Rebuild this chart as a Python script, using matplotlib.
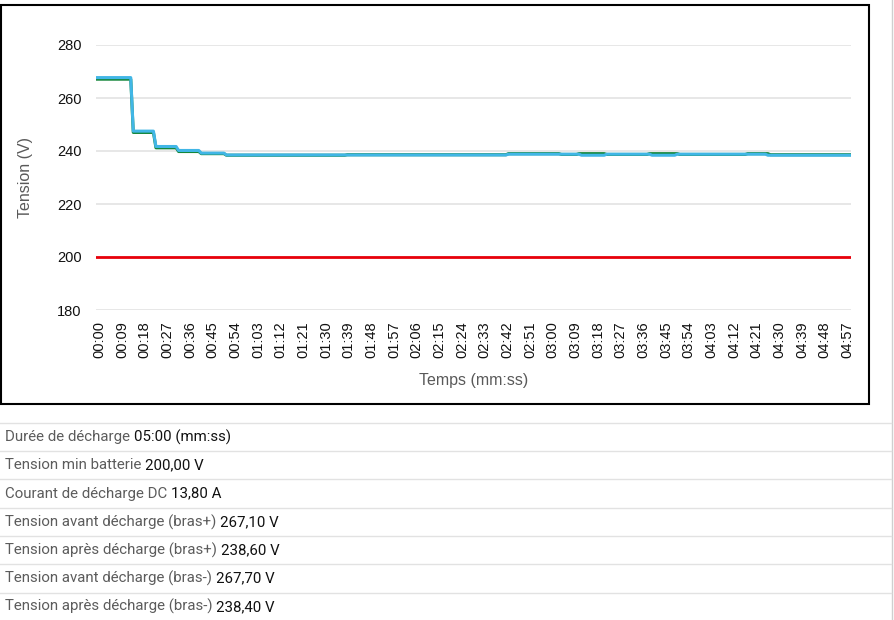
import numpy as np
import matplotlib
matplotlib.use("Agg")
import matplotlib.pyplot as plt
import matplotlib.transforms as mtransforms
from matplotlib.patches import Rectangle
from matplotlib.lines import Line2D

# series (level, first second of the run)
plus_levels = [267.1, 247.0, 241.2, 239.8, 239.0, 238.4, 238.6, 239.0, 238.7, 239.0, 238.7, 239.0, 238.7, 239.0, 238.6]
plus_starts = [0, 15, 24, 33, 42, 52, 100, 164, 185, 192, 203, 220, 232, 259, 268]
minus_levels = [267.7, 247.5, 241.7, 240.2, 239.2, 238.5, 238.8, 238.4, 238.8, 238.4, 238.8, 238.4]
minus_starts = [0, 15, 24, 33, 42, 52, 164, 193, 203, 221, 231, 267]
v_min = 200.0
duration = 300  # seconds

tick_labels = ["00:00", "00:09", "00:18", "00:27", "00:36", "00:45", "00:54", "01:03",
               "01:12", "01:21", "01:30", "01:39", "01:48", "01:57", "02:06", "02:15",
               "02:24", "02:33", "02:42", "02:51", "03:00", "03:09", "03:18", "03:27",
               "03:36", "03:45", "03:54", "04:03", "04:12", "04:21", "04:30", "04:39",
               "04:48", "04:57"]
y_ticks = [180, 200, 220, 240, 260, 280]

info_labels = ["Durée de décharge", "Tension min batterie", "Courant de décharge DC",
               "Tension avant décharge (bras+)", "Tension après décharge (bras+)",
               "Tension avant décharge (bras-)", "Tension après décharge (bras-)"]
info_values = ["05:00 (mm:ss)", "200,00 V", "13,80 A", "267,10 V", "238,60 V",
               "267,70 V", "238,40 V"]


def runs_to_series(levels, starts, n):
    ends = starts[1:] + [n]
    counts = [e - s for s, e in zip(starts, ends)]
    return np.repeat(levels, counts)


t = np.arange(duration + 1)
plus = runs_to_series(plus_levels, plus_starts, duration + 1)
minus = runs_to_series(minus_levels, minus_starts, duration + 1)

W, H = 894, 620
fig = plt.figure(figsize=(W / 100, H / 100), dpi=100)
fig.patch.set_facecolor("white")

ax = fig.add_axes([95.5 / W, 1 - 310 / H, (851 - 95.5) / W, (310 - 45) / H])
ax.set_facecolor("white")
for y in y_ticks:
    ax.axhline(y, color="#e3e3e3", lw=1.2, zorder=0)

ax.plot(t, np.full_like(t, v_min, dtype=float), color="#e8000b", lw=2.0, zorder=3)
ax.plot(t, plus, color="#13863a", lw=2.2, zorder=4, solid_joinstyle="round")
ax.plot(t, minus, color="#41b6e6", lw=2.2, zorder=5, solid_joinstyle="round")

ax.set_xlim(0, duration)
ax.set_ylim(180, 280)
ax.set_yticks(y_ticks)
ax.set_yticklabels([str(v) for v in y_ticks])
ax.set_xticks(np.arange(len(tick_labels)) * 9)
ax.set_xticklabels(tick_labels, rotation=90)
for s in ax.spines.values():
    s.set_visible(False)
ax.tick_params(length=0, labelsize=10.5, colors="#111111", labelfontfamily="Liberation Sans")
ax.tick_params(axis="y", pad=10)
ax.tick_params(axis="x", pad=8)
# nudge rotated labels a little to the right, as in the original
shift = mtransforms.ScaledTranslation(4 / 100, 0, fig.dpi_scale_trans)
for lab in ax.get_xticklabels():
    lab.set_transform(lab.get_transform() + shift)
ax.set_ylabel("Tension (V)", fontsize=11.5, color="#595959", family="Liberation Sans", labelpad=17)
ax.set_xlabel("Temps (mm:ss)", fontsize=11.5, color="#595959", family="Liberation Sans", labelpad=11)

# chart frame and page edges
fig.add_artist(Rectangle((0.5 / W, 1 - 404 / H), 868 / W, 399 / H, transform=fig.transFigure,
                         fill=False, edgecolor="black", lw=1.5))
fig.add_artist(Line2D([892 / W, 892 / W], [0, 1], transform=fig.transFigure, color="#cfcfcf", lw=1))

row_lines = [423, 451, 479, 508, 536, 564, 593]
for yl in row_lines:
    fig.add_artist(Line2D([0, 891 / W], [1 - yl / H, 1 - yl / H], transform=fig.transFigure,
                          color="#e2e2e2", lw=1))

fig.canvas.draw()
renderer = fig.canvas.get_renderer()
for i, (lab, val) in enumerate(zip(info_labels, info_values)):
    yc = 1 - (437 + i * 28.3) / H
    txt = fig.text(5 / W, yc, lab + " ", fontsize=10.8, color="#5c5c5c", family="Roboto",
                   va="center", ha="left")
    bb = txt.get_window_extent(renderer)
    fig.text(bb.x1 / W, yc, val, fontsize=10.8, color="#111111", family="Roboto",
             va="center", ha="left")

fig.savefig("out.png", dpi=100)
